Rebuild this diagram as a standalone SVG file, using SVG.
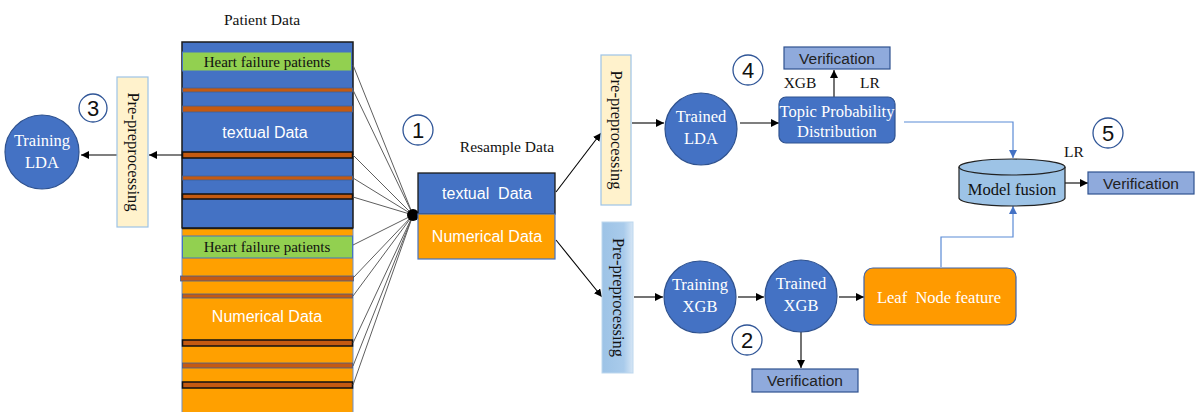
<svg xmlns="http://www.w3.org/2000/svg" width="1198" height="412" viewBox="0 0 1198 412">
  <style>
    .serif { font-family: "Liberation Serif", "Times New Roman", serif; }
    .sans { font-family: "Liberation Sans", Arial, sans-serif; }
    .lbl { font-size: 15.5px; fill: #111; }
    .node-circle { fill: #4472C4; stroke: #2F528F; stroke-width: 1.2; }
    .node-text { font-size: 16.5px; fill: #fff; text-anchor: middle; }
    .pre-y { fill: #FFF2CC; stroke: #9DC3E6; stroke-width: 1.2; }
    .pre-text { font-size: 16.5px; fill: #111; text-anchor: middle; }
    .verif { fill: #8FAADC; stroke: #2F528F; stroke-width: 1.2; }
    .verif-text { font-size: 15.5px; fill: #222; text-anchor: middle; }
    .num-circle { fill: #fff; stroke: #2F5597; stroke-width: 1.3; }
    .num-text { font-size: 22px; fill: #111; text-anchor: middle; }
    .band { fill: #C55A11; stroke: #3E5F9A; stroke-width: 0.8; }
    .band-dark { fill: #C55A11; stroke: #111; stroke-width: 1.5; }
    .green { fill: #92D050; stroke: #4472C4; stroke-width: 1; }
    .green-text { font-size: 15px; fill: #111; text-anchor: middle; }
    .fan { stroke: #5E5E5E; stroke-width: 1; fill: none; }
    .arrow { stroke: #000; stroke-width: 1.1; fill: none; marker-end: url(#ah); }
    .blue-arrow { stroke: #5B8BD6; stroke-width: 1.2; fill: none; marker-end: url(#ahb); }
    .col-text { font-size: 16px; fill: #fff; text-anchor: middle; }
  </style>
  <defs>
    <marker id="ah" viewBox="0 0 10 10" refX="10" refY="5" markerWidth="8" markerHeight="8" markerUnits="userSpaceOnUse" orient="auto">
      <path d="M0,0 L10,5 L0,10 z" fill="#000"/>
    </marker>
    <marker id="ahb" viewBox="0 0 10 10" refX="10" refY="5" markerWidth="8" markerHeight="8" markerUnits="userSpaceOnUse" orient="auto">
      <path d="M0,0 L10,5 L0,10 z" fill="#4472C4"/>
    </marker>
    <linearGradient id="preBlue" x1="0" y1="0" x2="1" y2="0">
      <stop offset="0" stop-color="#9DC3E6"/>
      <stop offset="0.7" stop-color="#A9CBEB"/>
      <stop offset="1" stop-color="#D6E6F5"/>
    </linearGradient>
  </defs>

  <rect width="1198" height="412" fill="#fff"/>

  <!-- Patient data column -->
  <g id="patient-data">
    <text class="serif lbl" x="262" y="25" text-anchor="middle">Patient Data</text>
    <!-- textual part -->
    <rect x="182" y="42" width="171" height="186" fill="#4472C4" stroke="#1a1a1a" stroke-width="1.5"/>
    <rect class="green" x="182.5" y="52" width="169" height="19"/>
    <text class="serif green-text" x="267" y="67">Heart failure patients</text>
    <rect class="band" x="182.5" y="88" width="170" height="4"/>
    <rect class="band" x="182.5" y="106" width="170" height="6"/>
    <text class="sans col-text" x="265" y="138">textual Data</text>
    <rect class="band-dark" x="182.5" y="152" width="170" height="6"/>
    <rect class="band" x="182.5" y="176" width="170" height="4"/>
    <rect class="band-dark" x="182.5" y="194" width="170" height="5"/>
    <!-- numerical part -->
    <rect x="182" y="228.5" width="171" height="190" fill="#FFA000" stroke="#6F8FC8" stroke-width="1"/>
    <line x1="182" y1="228.5" x2="353" y2="228.5" stroke="#1a1a1a" stroke-width="1.5"/>
    <rect class="green" x="182.5" y="236" width="170" height="22"/>
    <text class="serif green-text" x="267" y="252">Heart failure patients</text>
    <rect class="band" x="180.5" y="276" width="173" height="5"/>
    <rect class="band" x="182.5" y="294" width="170" height="4"/>
    <text class="sans col-text" x="267" y="322">Numerical Data</text>
    <rect class="band-dark" x="182.5" y="340" width="170" height="6"/>
    <rect class="band" x="182.5" y="363" width="170" height="5"/>
    <rect class="band-dark" x="182.5" y="382" width="170" height="6" stroke="#333"/>
  </g>

  <!-- Connectors -->
  <g id="connectors">
    <!-- fan into resample point -->
    <g class="fan">
      <line x1="353" y1="65" x2="413" y2="215"/>
      <line x1="353" y1="90" x2="413" y2="215"/>
      <line x1="353" y1="155" x2="413" y2="215"/>
      <line x1="353" y1="178" x2="413" y2="215"/>
      <line x1="353" y1="197" x2="413" y2="215"/>
      <line x1="353" y1="245" x2="413" y2="215"/>
      <line x1="353" y1="278" x2="413" y2="215"/>
      <line x1="353" y1="296" x2="413" y2="215"/>
      <line x1="353" y1="343" x2="413" y2="215"/>
      <line x1="353" y1="366" x2="413" y2="215"/>
      <line x1="353" y1="385" x2="413" y2="215"/>
    </g>
    <circle cx="413" cy="215" r="6" fill="#000"/>
    <!-- left branch -->
    <line class="arrow" x1="182" y1="155" x2="149" y2="155"/>
    <line class="arrow" x1="117" y1="155" x2="81" y2="155"/>
    <!-- resample to pre-processing -->
    <line class="arrow" x1="556" y1="192" x2="601" y2="133"/>
    <line class="arrow" x1="556" y1="240" x2="602" y2="297"/>
    <!-- LDA path -->
    <line class="arrow" x1="632" y1="123" x2="664" y2="123"/>
    <line class="arrow" x1="740" y1="123" x2="779" y2="123"/>
    <line class="arrow" x1="834" y1="97" x2="834" y2="70"/>
    <!-- XGB path -->
    <line class="arrow" x1="634" y1="297" x2="663" y2="297"/>
    <line class="arrow" x1="738" y1="297" x2="764" y2="297"/>
    <line class="arrow" x1="839" y1="297" x2="864" y2="297"/>
    <line class="arrow" x1="801" y1="332" x2="801" y2="368"/>
    <!-- fusion -->
    <polyline class="blue-arrow" points="904,122 1013,122 1013,158"/>
    <polyline class="blue-arrow" points="941,267 941,237 1013,237 1013,206"/>
    <line class="arrow" x1="1065" y1="183" x2="1088" y2="183"/>
  </g>

  <!-- Left: pre-processing and LDA training -->
  <g id="pre-left">
    <rect class="pre-y" x="117" y="77" width="31" height="150"/>
    <text class="serif pre-text" transform="translate(132.5,152) rotate(90)" y="5">Pre-preprocessing</text>
  </g>
  <g id="training-lda">
    <circle class="node-circle" cx="42" cy="152" r="37"/>
    <text class="serif node-text" x="42" y="146">Training</text>
    <text class="serif node-text" x="42" y="168">LDA</text>
  </g>
  <g id="num-3">
    <circle class="num-circle" cx="93" cy="108" r="14"/>
    <text class="sans num-text" x="93" y="116">3</text>
  </g>

  <!-- Resample data -->
  <g id="resample">
    <text class="serif lbl" x="507" y="152" text-anchor="middle" font-size="16">Resample Data</text>
    <rect x="418" y="173" width="137" height="41" fill="#4472C4" stroke="#1a1a1a" stroke-width="1.3"/>
    <text class="sans col-text" x="487" y="199" xml:space="preserve">textual  Data</text>
    <rect x="418" y="214" width="137" height="45" fill="#FFA000" stroke="#4472C4" stroke-width="1.2"/>
    <text class="sans col-text" x="487" y="242">Numerical Data</text>
  </g>
  <g id="num-1">
    <circle class="num-circle" cx="418" cy="130" r="15"/>
    <text class="sans num-text" x="418" y="138">1</text>
  </g>

  <!-- LDA branch -->
  <g id="pre-lda">
    <rect class="pre-y" x="601" y="55" width="30" height="150"/>
    <text class="serif pre-text" transform="translate(616,130) rotate(90)" y="5">Pre-preprocessing</text>
  </g>
  <g id="trained-lda">
    <circle class="node-circle" cx="701" cy="129" r="36"/>
    <text class="serif node-text" x="701" y="122">Trained</text>
    <text class="serif node-text" x="701" y="144">LDA</text>
  </g>
  <g id="topic-dist">
    <rect x="779" y="97" width="116" height="46" rx="7" fill="#4472C4" stroke="#2F528F" stroke-width="1.2"/>
    <text class="serif node-text" x="837" y="117" font-size="16">Topic Probability</text>
    <text class="serif node-text" x="837" y="137" font-size="16">Distribution</text>
  </g>
  <g id="verif-lda">
    <rect class="verif" x="784" y="47" width="106" height="22"/>
    <text class="sans verif-text" x="837" y="64">Verification</text>
    <text class="serif lbl" x="800" y="88" text-anchor="middle">XGB</text>
    <text class="serif lbl" x="870" y="88" text-anchor="middle">LR</text>
  </g>
  <g id="num-4">
    <circle class="num-circle" cx="748" cy="70" r="15"/>
    <text class="sans num-text" x="748" y="78">4</text>
  </g>

  <!-- XGB branch -->
  <g id="pre-xgb">
    <rect x="602" y="222" width="31" height="151" fill="url(#preBlue)" stroke="#BDD7EE" stroke-width="1"/>
    <text class="serif pre-text" transform="translate(617.5,297.5) rotate(90)" y="5">Pre-preprocessing</text>
  </g>
  <g id="training-xgb">
    <circle class="node-circle" cx="700" cy="297" r="36"/>
    <text class="serif node-text" x="700" y="290">Training</text>
    <text class="serif node-text" x="700" y="312">XGB</text>
  </g>
  <g id="trained-xgb">
    <circle class="node-circle" cx="801" cy="296" r="36"/>
    <text class="serif node-text" x="801" y="289">Trained</text>
    <text class="serif node-text" x="801" y="311">XGB</text>
  </g>
  <g id="verif-xgb">
    <rect class="verif" x="752" y="369" width="106" height="23"/>
    <text class="sans verif-text" x="805" y="386">Verification</text>
  </g>
  <g id="num-2">
    <circle class="num-circle" cx="747" cy="340" r="15"/>
    <text class="sans num-text" x="747" y="348">2</text>
  </g>
  <g id="leaf-node">
    <rect x="864" y="268" width="152" height="57" rx="9" fill="#FF9A00" stroke="#3E63A8" stroke-width="1.2"/>
    <text class="serif node-text" x="939" y="303" xml:space="preserve">Leaf  Node feature</text>
  </g>

  <!-- Fusion -->
  <g id="model-fusion">
    <path d="M959,167 L959,198 A53,8 0 0 0 1065,198 L1065,167" fill="#9DC3E6" stroke="#222" stroke-width="1.2"/>
    <ellipse cx="1012" cy="167" rx="53" ry="8" fill="#9DC3E6" stroke="#222" stroke-width="1.2"/>
    <text class="serif" x="1012" y="195" font-size="16.5" fill="#111" text-anchor="middle">Model fusion</text>
    <text class="serif lbl" x="1074" y="157" text-anchor="middle">LR</text>
  </g>
  <g id="verif-fusion">
    <rect class="verif" x="1088" y="172" width="106" height="22"/>
    <text class="sans verif-text" x="1141" y="189">Verification</text>
  </g>
  <g id="num-5">
    <circle class="num-circle" cx="1108" cy="133" r="15"/>
    <text class="sans num-text" x="1108" y="141">5</text>
  </g>
</svg>
